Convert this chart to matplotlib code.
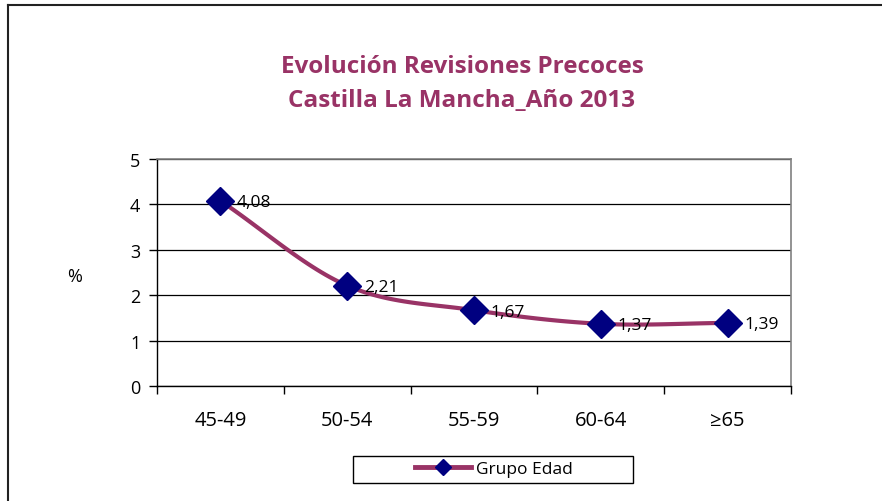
import numpy as np
import matplotlib
matplotlib.use("Agg")
import matplotlib.pyplot as plt
from matplotlib.lines import Line2D
from matplotlib.patches import Rectangle

plt.rcParams['font.family'] = ['Open Sans', 'DejaVu Sans']

categories = ["45-49", "50-54", "55-59", "60-64", "≥65"]
values = [4.08, 2.21, 1.67, 1.37, 1.39]
labels = ["4,08", "2,21", "1,67", "1,37", "1,39"]
series_name = "Grupo Edad"
title = "Evolución Revisiones Precoces\nCastilla La Mancha_Año 2013"

LINE_C = "#993366"
MARK_C = "#000080"

fig = plt.figure(figsize=(8.82, 5.02), dpi=100)
W, H = 882, 502
ax = fig.add_axes([157 / W, 1 - 387 / H, (791 - 157) / W, (387 - 160) / H])

x = np.arange(len(categories))
y = np.array(values)

# Catmull-Rom smoothing (Excel style smoothed line) for drawing only
def smooth(xs, ys, n=30):
    px = np.concatenate([[2 * xs[0] - xs[1]], xs, [2 * xs[-1] - xs[-2]]])
    py = np.concatenate([[2 * ys[0] - ys[1]], ys, [2 * ys[-1] - ys[-2]]])
    outx, outy = [], []
    for i in range(1, len(px) - 2):
        t = np.linspace(0, 1, n)
        for arr, out in ((px, outx), (py, outy)):
            p0, p1, p2, p3 = arr[i - 1], arr[i], arr[i + 1], arr[i + 2]
            out.extend(0.5 * ((2 * p1) + (-p0 + p2) * t
                              + (2 * p0 - 5 * p1 + 4 * p2 - p3) * t ** 2
                              + (-p0 + 3 * p1 - 3 * p2 + p3) * t ** 3))
    return np.array(outx), np.array(outy)

sx, sy = smooth(x.astype(float), y)
ax.plot(sx, sy, color=LINE_C, lw=3, solid_capstyle='round', zorder=3)
ax.plot(x, y, ls='none', marker='D', ms=14, color=MARK_C, zorder=4)

for xi, yi, lab in zip(x, y, labels):
    ax.annotate(lab, (xi, yi), xytext=(12, -1), textcoords='offset points',
                ha='left', va='center', fontsize=12.5, color='black', zorder=5)

ax.set_xlim(-0.5, len(categories) - 0.5)
ax.set_ylim(0, 5)
ax.set_yticks(range(0, 6))
ax.set_yticklabels([str(i) for i in range(0, 6)], fontsize=13)
ax.set_xticks(np.arange(-0.5, len(categories), 1.0))
ax.set_xticklabels([])
ax.set_xticks(x, minor=True)
ax.set_xticklabels(categories, minor=True, fontsize=14.5)
ax.tick_params(axis='x', which='minor', length=0, pad=17)
ax.tick_params(axis='x', which='major', length=6, width=1, direction='out', color='black')
ax.tick_params(axis='y', length=6, width=1, direction='out', color='black', pad=6)

ax.yaxis.grid(True, color='black', lw=0.9)
ax.set_axisbelow(True)
for s in ['top', 'right']:
    ax.spines[s].set_color('#808080')
    ax.spines[s].set_linewidth(1.2)
for s in ['left', 'bottom']:
    ax.spines[s].set_color('black')
    ax.spines[s].set_linewidth(1)

fig.text(75 / W, 1 - 277 / H, "%", fontsize=13, ha='center', va='center')
fig.text(462 / W, 1 - 84 / H, title, fontsize=17.5, fontweight='bold',
         color=LINE_C, ha='center', va='center', linespacing=1.55)

# legend box
fig.add_artist(Rectangle((353 / W, 1 - 484 / H), (633 - 353) / W, (484 - 457) / H,
                         transform=fig.transFigure, fill=False, edgecolor='black', lw=1))
handle = Line2D([], [], color=LINE_C, lw=3.5, marker='D', ms=8, mfc=MARK_C, mec=MARK_C)
leg = fig.legend([handle], [series_name], loc='center',
                 bbox_to_anchor=(494 / W, 1 - 470 / H), fontsize=12.5,
                 frameon=False, handlelength=3.2, handletextpad=0.3)

# outer chart border
fig.add_artist(Line2D([8 / W, 8 / W], [0, 1 - 6 / H], transform=fig.transFigure, color='#222222', lw=1.5))
fig.add_artist(Line2D([8 / W, 1], [1 - 6 / H, 1 - 6 / H], transform=fig.transFigure, color='#222222', lw=1.5))

fig.savefig("out.png", dpi=100)
